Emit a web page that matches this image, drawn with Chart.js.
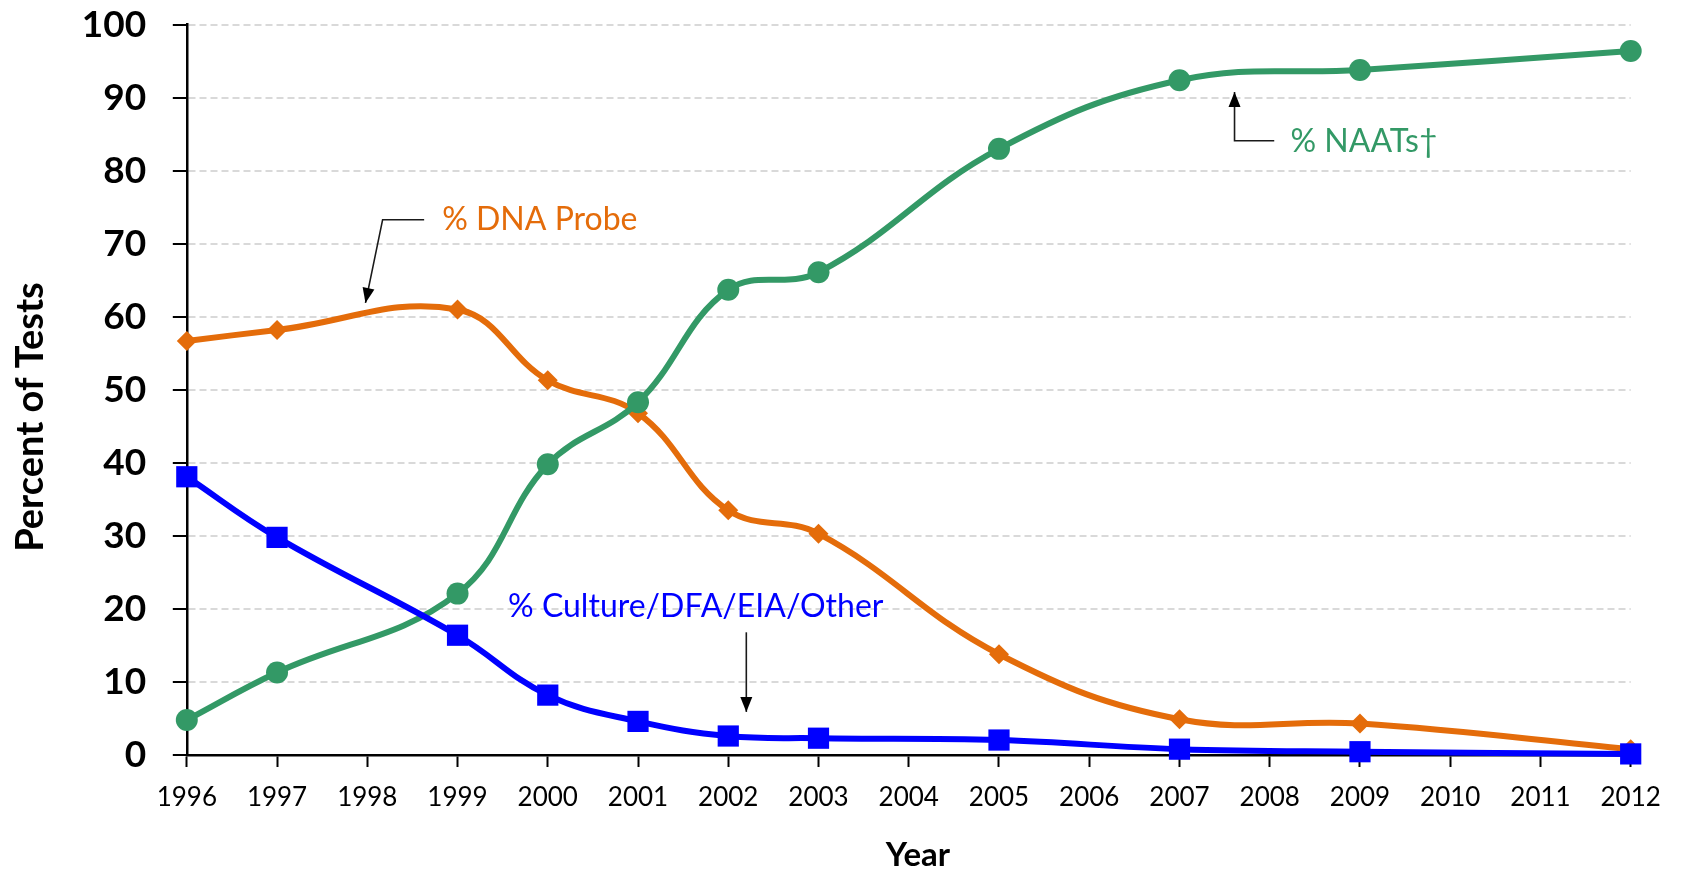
<!DOCTYPE html>
<html>
<head>
<meta charset="utf-8">
<script src="https://cdn.jsdelivr.net/npm/chart.js@4/dist/chart.umd.min.js"></script>
<style>
  html, body { margin: 0; padding: 0; background: #ffffff; }
  #wrap { width: 1682px; height: 870px; }
</style>
</head>
<body>
<div id="wrap"><canvas id="c" width="1682" height="870"></canvas></div>
<script>
// ---------- data ----------
const dataYears = [1996, 1997, 1999, 2000, 2001, 2002, 2003, 2005, 2007, 2009, 2012];
const dnaProbe  = [56.7, 58.2, 61.0, 51.3, 46.8, 33.5, 30.3, 13.8, 4.9, 4.3, 0.8];
const naats     = [4.8, 11.3, 22.1, 39.8, 48.3, 63.7, 66.1, 83.0, 92.4, 93.8, 96.4];
const culture   = [38.1, 29.8, 16.4, 8.2, 4.6, 2.6, 2.3, 2.05, 0.8, 0.45, 0.15];
const tickYears = [1996, 1997, 1998, 1999, 2000, 2001, 2002, 2003, 2004, 2005, 2006, 2007, 2008, 2009, 2010, 2011, 2012];
const yTicks    = [0, 10, 20, 30, 40, 50, 60, 70, 80, 90, 100];
const seriesNames = ['% Culture/DFA/EIA/Other', '% NAATs\u2020', '% DNA Probe'];
const xTitle = 'Year';
const yTitle = 'Percent of Tests';

// ---------- styles ----------
const ORANGE = '#E46C0A', GREEN = '#339966', BLUE = '#0000FF';
const FONT = 'Lato, "Open Sans", "DejaVu Sans", sans-serif';

// callout labels (positions in data space)
const callouts = [
  { text: seriesNames[2], color: ORANGE, at: [1998.83, 73.3],
    path: [[1998.63, 73.3], [1998.17, 73.3], [1997.98, 61.9]] },
  { text: seriesNames[0], color: BLUE, at: [1999.56, 20.3],
    path: [[2002.2, 16.8], [2002.2, 5.9]] },
  { text: seriesNames[1], color: GREEN, at: [2008.23, 84.0],
    path: [[2008.05, 84.1], [2007.61, 84.1], [2007.61, 90.8]] }
];

const toPts = (vals) => dataYears.map((yr, i) => ({ x: yr, y: vals[i] }));

const calloutPlugin = {
  id: 'callouts',
  afterDatasetsDraw(chart) {
    const { ctx, scales: { x, y } } = chart;
    ctx.save();
    callouts.forEach(c => {
      const pts = c.path.map(p => [x.getPixelForValue(p[0]), y.getPixelForValue(p[1])]);
      ctx.strokeStyle = '#1a1a1a';
      ctx.lineWidth = 1.6;
      ctx.beginPath();
      pts.forEach((p, i) => i ? ctx.lineTo(p[0], p[1]) : ctx.moveTo(p[0], p[1]));
      ctx.stroke();
      const tip = pts[pts.length - 1], prev = pts[pts.length - 2];
      const ang = Math.atan2(tip[1] - prev[1], tip[0] - prev[0]);
      const L = 15, W = 6;
      ctx.fillStyle = '#000';
      ctx.beginPath();
      ctx.moveTo(tip[0], tip[1]);
      ctx.lineTo(tip[0] - L * Math.cos(ang) + W * Math.sin(ang), tip[1] - L * Math.sin(ang) - W * Math.cos(ang));
      ctx.lineTo(tip[0] - L * Math.cos(ang) - W * Math.sin(ang), tip[1] - L * Math.sin(ang) + W * Math.cos(ang));
      ctx.closePath();
      ctx.fill();
      ctx.fillStyle = c.color;
      ctx.font = '32px ' + FONT;
      ctx.textAlign = 'left';
      ctx.textBaseline = 'middle';
      ctx.fillText(c.text, x.getPixelForValue(c.at[0]), y.getPixelForValue(c.at[1]));
    });
    ctx.restore();
  }
};

// axis titles (placed like the reference, slightly off the plot centre)
const axisTitlePlugin = {
  id: 'axisTitles',
  afterDraw(chart) {
    const { ctx } = chart;
    ctx.save();
    ctx.fillStyle = '#000';
    ctx.textAlign = 'center';
    ctx.textBaseline = 'middle';
    ctx.font = 'bold 33px ' + FONT;
    ctx.fillText(xTitle, 918, 855);
    ctx.translate(31, 417);
    ctx.rotate(-Math.PI / 2);
    ctx.font = 'bold 38px ' + FONT;
    ctx.fillText(yTitle, 0, 0);
    ctx.restore();
  }
};

new Chart(document.getElementById('c'), {
  type: 'line',
  data: {
    datasets: [
      { label: seriesNames[0], data: toPts(culture), borderColor: BLUE, backgroundColor: BLUE,
        borderWidth: 6, pointStyle: 'rect', pointRadius: 15, pointBorderWidth: 0, tension: 0.4, clip: false },
      { label: seriesNames[1], data: toPts(naats), borderColor: GREEN, backgroundColor: GREEN,
        borderWidth: 6, pointStyle: 'circle', pointRadius: 11, pointBorderWidth: 0, tension: 0.4, clip: false },
      { label: seriesNames[2], data: toPts(dnaProbe), borderColor: ORANGE, backgroundColor: ORANGE,
        borderWidth: 6, pointStyle: 'rectRot', pointRadius: 10, pointBorderWidth: 0, tension: 0.4, clip: false }
    ]
  },
  options: {
    responsive: false,
    animation: false,
    devicePixelRatio: 1,
    layout: { padding: { left: 0, right: 51.3, top: 0, bottom: 0 } },
    plugins: { legend: { display: false }, tooltip: { enabled: false } },
    scales: {
      x: {
        type: 'linear', min: tickYears[0], max: tickYears[tickYears.length - 1],
        afterBuildTicks: (s) => { s.ticks = tickYears.map(v => ({ value: v })); },
        afterFit: (s) => { s.height = 115; },
        grid: { display: true, drawOnChartArea: false, drawTicks: true, tickLength: 12, tickColor: '#000', tickWidth: 2 },
        border: { display: true, color: '#000', width: 2.5 },
        ticks: { color: '#000', padding: 15, maxRotation: 0, autoSkip: false,
                 font: { family: FONT, size: 26, lineHeight: 1.2 },
                 callback: (v) => String(v) },
        title: { display: false }
      },
      y: {
        min: 0, max: 100,
        afterBuildTicks: (s) => { s.ticks = yTicks.map(v => ({ value: v })); },
        afterFit: (s) => { s.width = 186.8; s.paddingTop = 24.7; s.paddingBottom = 20; },
        grid: { display: true, drawOnChartArea: true, drawTicks: true, color: '#D9D9D9', lineWidth: 2,
                tickLength: 14, tickColor: '#000', tickWidth: 2 },
        border: { display: true, color: '#000', width: 2.5, dash: [7, 4] },
        ticks: { color: '#000', padding: 26.6, font: { family: FONT, size: 37, weight: 'bold', lineHeight: 1.2 },
                 callback: (v) => String(v) },
        title: { display: false }
      }
    }
  },
  plugins: [calloutPlugin, axisTitlePlugin]
});
</script>
</body>
</html>
